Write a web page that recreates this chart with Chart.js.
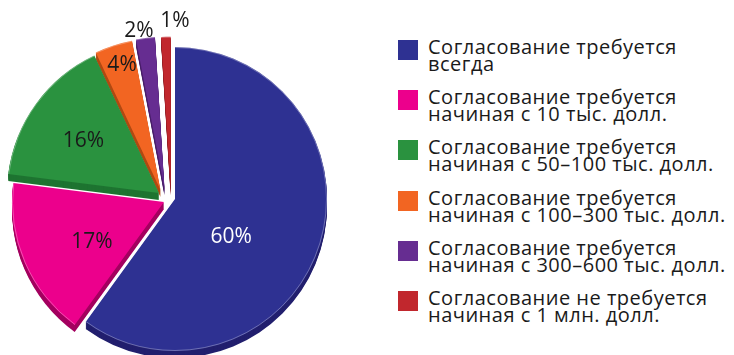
<!DOCTYPE html>
<html lang="ru">

<head>
    <meta charset="UTF-8">
    <script src="https://cdn.jsdelivr.net/npm/chart.js"></script>
    <title>Согласование</title>
    <style>
        html, body { margin: 0; padding: 0; background: #fff; }
        body { width: 734px; height: 355px; position: relative; overflow: hidden; font-family: "Open Sans", "DejaVu Sans", sans-serif; }
        #pieBox { position: absolute; left: 0; top: 0; width: 350px; height: 355px; }
        #legenda { position: absolute; left: 398px; top: 38px; margin: 0; padding: 0; list-style: none; }
        #legenda li { display: flex; align-items: flex-start; height: 34px; margin-bottom: 16.2px; }
        #legenda .cor { width: 20px; height: 20px; margin-top: 2px; margin-right: 10px; flex: none; }
        #legenda .txt { font-size: 20px; letter-spacing: 0.5px; line-height: 17px; color: #1a1a1a; white-space: nowrap; }
    </style>
</head>

<body>
    <div id="pieBox"><canvas id="graficoPizza"></canvas></div>
    <ul id="legenda"></ul>

    <script>
        const categorias = [
            ["Согласование требуется", "всегда"],
            ["Согласование требуется", "начиная с 10 тыс. долл."],
            ["Согласование требуется", "начиная с 50–100 тыс. долл."],
            ["Согласование требуется", "начиная с 100–300 тыс. долл."],
            ["Согласование требуется", "начиная с 300–600 тыс. долл."],
            ["Согласование не требуется", "начиная с 1 млн. долл."]
        ];
        const valores = [60, 17, 16, 4, 2, 1];
        const cores = ['#2e3192', '#ec008c', '#2a923f', '#f26522', '#662d91', '#c1272d'];
        const coresLado = ['#221f6e', '#a3005f', '#1e7431', '#b04a12', '#4a1f6a', '#8e1b20'];

        // legenda em HTML
        const legenda = document.getElementById("legenda");
        categorias.forEach((linhas, i) => {
            const item = document.createElement("li");
            const caixa = document.createElement("span");
            caixa.className = "cor";
            caixa.style.background = cores[i];
            const texto = document.createElement("span");
            texto.className = "txt";
            texto.innerHTML = linhas.join("<br>");
            item.appendChild(caixa);
            item.appendChild(texto);
            legenda.appendChild(item);
        });

        const grau = Math.PI / 180;

        // fatias deslocadas (dx, dy em px) com uma "espessura" embaixo
        const pizza3d = {
            id: 'pizza3d',
            beforeDatasetDraw(chart, args, opts) {
                const ctx = chart.ctx;
                const arcs = args.meta.data;

                arcs.forEach((arc, i) => {
                    const [dx, dy] = opts.explode[i];
                    ctx.save();
                    ctx.fillStyle = coresLado[i];
                    for (let d = opts.depth; d >= 1; d--) {
                        ctx.beginPath();
                        ctx.moveTo(arc.x + dx, arc.y + dy + d);
                        ctx.arc(arc.x + dx, arc.y + dy + d, arc.outerRadius, arc.startAngle, arc.endAngle);
                        ctx.closePath();
                        ctx.fill();
                    }
                    ctx.restore();
                });

                arcs.forEach((arc, i) => {
                    const [dx, dy] = opts.explode[i];
                    ctx.save();
                    ctx.translate(dx, dy);
                    arc.draw(ctx);
                    // brilho fino na borda de cima
                    ctx.beginPath();
                    ctx.arc(arc.x, arc.y, arc.outerRadius - 0.5, arc.startAngle, arc.endAngle);
                    ctx.strokeStyle = 'rgba(255,255,255,0.3)';
                    ctx.lineWidth = 1;
                    ctx.stroke();
                    ctx.restore();
                });
                return false;
            },
            afterDatasetsDraw(chart, args, opts) {
                const ctx = chart.ctx;
                const arcs = chart.getDatasetMeta(0).data;
                ctx.save();
                ctx.font = '21px "Open Sans", "DejaVu Sans", sans-serif';
                ctx.textAlign = 'center';
                ctx.textBaseline = 'middle';
                arcs.forEach((arc, i) => {
                    const [dx, dy] = opts.explode[i];
                    const meio = (arc.startAngle + arc.endAngle) / 2;
                    const ang = meio + opts.labelNudge[i] * grau;
                    const r = arc.outerRadius * opts.labelRadius[i];
                    ctx.fillStyle = i === 0 ? '#ffffff' : '#1a1a1a';
                    ctx.fillText(valores[i] + '%', arc.x + dx + Math.cos(ang) * r, arc.y + dy + Math.sin(ang) * r + 2);
                });
                ctx.restore();
            }
        };

        new Chart(document.getElementById("graficoPizza"), {
            type: 'pie',
            data: {
                labels: categorias.map(c => c.join(' ')),
                datasets: [{
                    data: valores,
                    backgroundColor: cores,
                    borderWidth: 0
                }]
            },
            options: {
                responsive: true,
                maintainAspectRatio: false,
                animation: false,
                radius: 152,
                layout: { padding: { top: 43, bottom: 0 } },
                events: [],
                plugins: {
                    legend: { display: false },
                    tooltip: { enabled: false },
                    pizza3d: {
                        depth: 7,
                        explode: [[0, 0], [-11, 3], [-16, -6], [-14.5, -9], [-10.5, -10.3], [-4.3, -10.3]],
                        labelRadius: [0.44, 0.536, 0.61, 0.87, 1.065, 1.115],
                        labelNudge: [15, -4.4, -0.5, 1.1, -1.9, 3.2]
                    }
                }
            },
            plugins: [pizza3d]
        });
    </script>
</body>

</html>
